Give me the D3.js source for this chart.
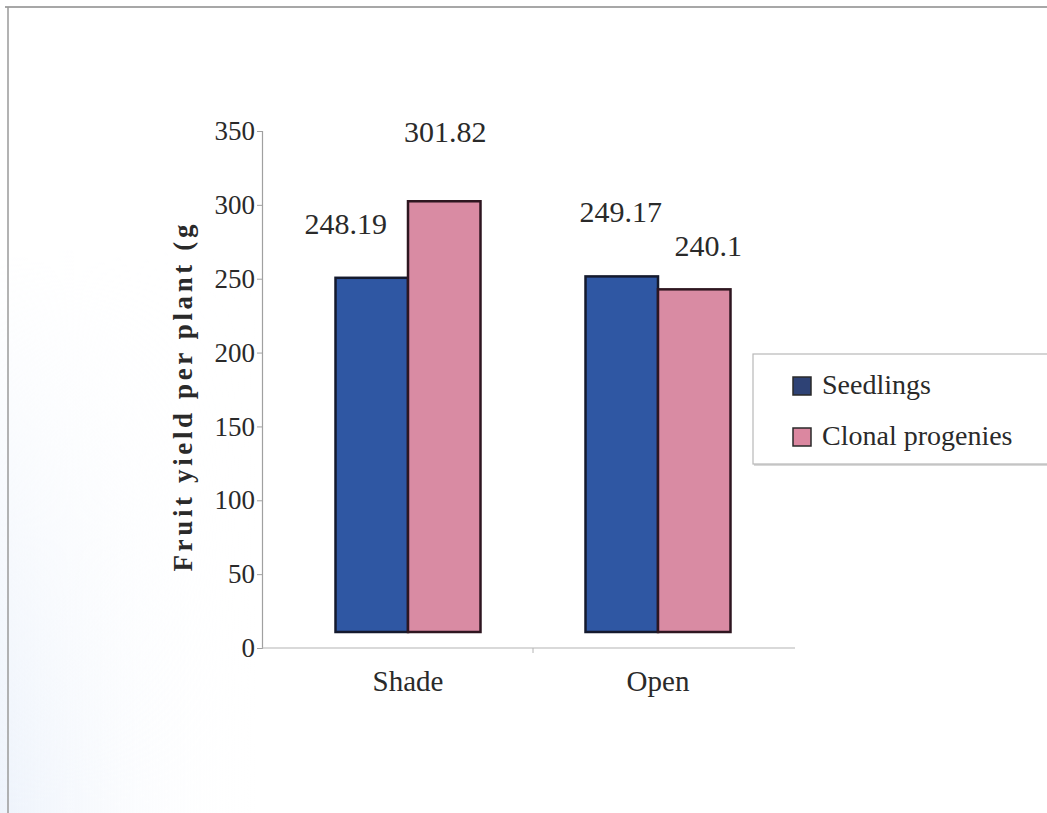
<!DOCTYPE html>
<html>
<head>
<meta charset="utf-8">
<script src="https://cdn.jsdelivr.net/npm/d3@7"></script>
<style>
  html, body { margin: 0; padding: 0; background: #fff; }
  svg { display: block; }
  text { font-family: "Liberation Serif", "Times New Roman", serif; fill: #2a2a2a; }
</style>
</head>
<body>
<svg id="chart" width="1047" height="813"></svg>
<script>
// Chart data
const categories = ["Shade", "Open"];
const seriesNames = ["Seedlings", "Clonal progenies"];
const seedlings = [248.19, 249.17];
const clonal = [301.82, 240.1];
const yTicks = [0, 50, 100, 150, 200, 250, 300, 350];
const yTitle = "Fruit yield per plant (g";

const SERIF = "'Liberation Serif', 'Times New Roman', serif";
const colors = { "Seedlings": "#2f57a3", "Clonal progenies": "#d98ba3" };
const strokes = { "Seedlings": "#141a2e", "Clonal progenies": "#2e1620" };
const swatchFill = { "Seedlings": "#2e4275", "Clonal progenies": "#db87a0" };

// Label placement tweaks (pixels) per category / series
const labelNudge = {
  "Shade|Seedlings": { dx: -26, dy: -44 },
  "Shade|Clonal progenies": { dx: 1, dy: -59 },
  "Open|Seedlings": { dx: -1, dy: -54 },
  "Open|Clonal progenies": { dx: 14, dy: -33 }
};

const rows = categories.map((c, i) => ({
  category: c,
  values: [
    { series: seriesNames[0], value: seedlings[i] },
    { series: seriesNames[1], value: clonal[i] }
  ]
}));

const svg = d3.select("#chart");

// faint bluish haze along the lower-left of the page
const defs = svg.append("defs");
const haze = defs.append("linearGradient").attr("id", "haze")
  .attr("x1", "0%").attr("y1", "0%").attr("x2", "100%").attr("y2", "0%");
haze.append("stop").attr("offset", "0%").attr("stop-color", "#e6eefa").attr("stop-opacity", 0.7);
haze.append("stop").attr("offset", "100%").attr("stop-color", "#ffffff").attr("stop-opacity", 0);
const hazeV = defs.append("linearGradient").attr("id", "hazeMask")
  .attr("x1", "0%").attr("y1", "0%").attr("x2", "0%").attr("y2", "100%");
hazeV.append("stop").attr("offset", "0%").attr("stop-color", "#000");
hazeV.append("stop").attr("offset", "100%").attr("stop-color", "#fff");
defs.append("mask").attr("id", "hm").append("rect")
  .attr("x", 0).attr("y", 250).attr("width", 260).attr("height", 563).attr("fill", "url(#hazeMask)");
svg.append("rect").attr("x", 0).attr("y", 0).attr("width", 1047).attr("height", 813).attr("fill", "#fff");
svg.append("rect").attr("x", 0).attr("y", 250).attr("width", 260).attr("height", 563)
  .attr("fill", "url(#haze)").attr("mask", "url(#hm)");

// page frame (top and left edges)
svg.append("line").attr("x1", 5).attr("x2", 1047).attr("y1", 7).attr("y2", 7)
  .attr("stroke", "#8a8a8a").attr("stroke-width", 1.5);
svg.append("line").attr("x1", 8).attr("x2", 8).attr("y1", 7).attr("y2", 813)
  .attr("stroke", "#9a9a9a").attr("stroke-width", 1.5);

// Scales: back wall (axis) and front plane (bars)
const y = d3.scaleLinear().domain([0, 350]).range([648, 131]);
const yBar = d3.scaleLinear().domain([0, 350]).range([632, 132.5]);
const x0 = d3.scaleBand().domain(categories).range([283, 783]).paddingInner(0.42).paddingOuter(0.21);
const x1 = d3.scaleBand().domain(seriesNames).range([0, x0.bandwidth()]);

// Y axis
const yAxis = d3.axisLeft(y).tickValues(yTicks).tickSize(5).tickPadding(2);
const gy = svg.append("g").attr("transform", "translate(262,0)").call(yAxis);
gy.select(".domain").attr("stroke", "#a0a0a0").attr("stroke-width", 1.2);
gy.selectAll(".tick line").attr("stroke", "#a0a0a0");
gy.selectAll(".tick text").style("font-size", "27px").attr("fill", "#2a2a2a")
  .style("font-family", SERIF);

// X axis baseline
const xAxisScale = d3.scaleLinear().domain([0, 1]).range([262, 795]);
svg.append("line")
  .attr("x1", xAxisScale(0)).attr("x2", xAxisScale(1))
  .attr("y1", y(0)).attr("y2", y(0))
  .attr("stroke", "#b4b4b4").attr("stroke-width", 1.2);
// divider tick between categories
const midX = (x0("Shade") + x0.bandwidth() / 2 + x0("Open") + x0.bandwidth() / 2) / 2;
svg.append("line").attr("x1", midX).attr("x2", midX).attr("y1", y(0)).attr("y2", y(0) + 5)
  .attr("stroke", "#b4b4b4");

// category labels
svg.selectAll(".cat").data(categories).join("text")
  .attr("class", "cat")
  .attr("x", d => x0(d) + x0.bandwidth() / 2)
  .attr("y", 691)
  .attr("text-anchor", "middle")
  .style("font-family", SERIF)
  .style("font-size", "29px")
  .text(d => d);

// Bars
const groups = svg.selectAll(".grp").data(rows).join("g")
  .attr("class", "grp")
  .attr("transform", d => `translate(${x0(d.category)},0)`);

groups.selectAll("rect").data(d => d.values).join("rect")
  .attr("x", d => x1(d.series))
  .attr("y", d => yBar(d.value))
  .attr("width", x1.bandwidth())
  .attr("height", d => yBar(0) - yBar(d.value))
  .attr("fill", d => colors[d.series])
  .attr("stroke", d => strokes[d.series])
  .attr("stroke-width", 2.5);

// Value labels
groups.selectAll(".val").data(d => d.values.map(v => ({ ...v, category: d.category }))).join("text")
  .attr("class", "val")
  .attr("x", d => x1(d.series) + x1.bandwidth() / 2 + labelNudge[d.category + "|" + d.series].dx)
  .attr("y", d => yBar(d.value) + labelNudge[d.category + "|" + d.series].dy)
  .attr("text-anchor", "middle")
  .style("font-family", SERIF)
  .style("font-size", "30px")
  .text(d => d.value);

// Y axis title
svg.append("text")
  .attr("transform", "translate(192,398) rotate(-90)")
  .attr("text-anchor", "middle")
  .attr("textLength", 347)
  .attr("lengthAdjust", "spacing")
  .style("font-family", SERIF)
  .style("font-size", "27px")
  .style("font-weight", "bold")
  .attr("fill", "#1a1a1a")
  .text(yTitle);

// Legend
const legend = svg.append("g").attr("transform", "translate(753,354)");
legend.append("rect").attr("x", 1).attr("y", 2).attr("width", 300).attr("height", 110)
  .attr("fill", "#d8d8d8");
legend.append("rect").attr("x", 0).attr("y", 0).attr("width", 300).attr("height", 110)
  .attr("fill", "#fff").attr("stroke", "#b8b8b8").attr("stroke-width", 1.2);
const li = legend.selectAll(".li").data(seriesNames).join("g")
  .attr("class", "li")
  .attr("transform", (d, i) => `translate(40,${23 + i * 51})`);
li.append("rect").attr("width", 18).attr("height", 18)
  .attr("fill", d => swatchFill[d]).attr("stroke", "#2a2a2a").attr("stroke-width", 1.5);
li.append("text").attr("x", 29).attr("y", 17)
  .style("font-family", SERIF).style("font-size", "28px").text(d => d);
</script>
</body>
</html>
